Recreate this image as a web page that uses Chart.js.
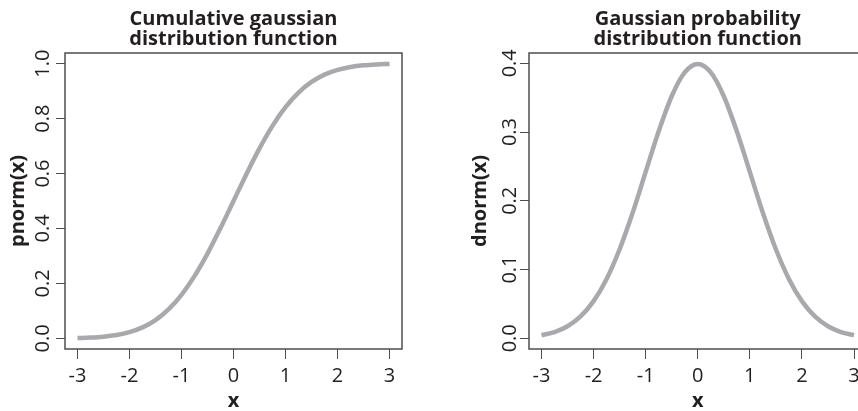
<!DOCTYPE html>
<html>
<head>
<meta charset="utf-8">
<script src="https://cdn.jsdelivr.net/npm/chart.js@4.4.1/dist/chart.umd.min.js"></script>
<style>
  html, body { margin: 0; padding: 0; background: #fff; overflow: hidden; width: 858px; height: 411px; }
  canvas { position: absolute; top: 0; }
  #cdf { left: 0; }
  #pdf { left: 430px; }
</style>
</head>
<body>
<canvas id="cdf" width="430" height="411"></canvas>
<canvas id="pdf" width="460" height="411"></canvas>
<script>
// Values.
const xValues = [-3, -2.75, -2.5, -2.25, -2, -1.75, -1.5, -1.25, -1, -0.75, -0.5, -0.25, 0,
                 0.25, 0.5, 0.75, 1, 1.25, 1.5, 1.75, 2, 2.25, 2.5, 2.75, 3];
const pnormValues = [0.0013, 0.0030, 0.0062, 0.0122, 0.0228, 0.0401, 0.0668, 0.1056, 0.1587, 0.2266, 0.3085, 0.4013, 0.5,
                     0.5987, 0.6915, 0.7734, 0.8413, 0.8944, 0.9332, 0.9599, 0.9772, 0.9878, 0.9938, 0.9970, 0.9987];
const dnormValues = [0.0044, 0.0091, 0.0175, 0.0317, 0.0540, 0.0863, 0.1295, 0.1826, 0.2420, 0.3011, 0.3521, 0.3867, 0.3989,
                     0.3867, 0.3521, 0.3011, 0.2420, 0.1826, 0.1295, 0.0863, 0.0540, 0.0317, 0.0175, 0.0091, 0.0044];

// Tick labels.
const xTicks = [-3, -2, -1, 0, 1, 2, 3];
const pnormTicks = [0, 0.2, 0.4, 0.6, 0.8, 1.0];
const dnormTicks = [0, 0.1, 0.2, 0.3, 0.4];

// Titles.
const cdfTitle = ['Cumulative gaussian', 'distribution function'];
const pdfTitle = ['Gaussian probability', 'distribution function'];

const ink = '#231f20';
const frameColor = '#4d4d4d';
const curveColor = '#a7a9ac';
const family = '"Open Sans", sans-serif';

Chart.defaults.font.family = family;

// Draws the full R-style box round the plot area.
const boxPlugin = {
    id: 'plotBox',
    afterDatasetsDraw(chart) {
        const {ctx, chartArea} = chart;
        ctx.save();
        ctx.strokeStyle = frameColor;
        ctx.lineWidth = 1.5;
        ctx.strokeRect(chartArea.left, chartArea.top, chartArea.right - chartArea.left, chartArea.bottom - chartArea.top);
        ctx.restore();
    }
};

// Two-line bold title centred over the plot area.
const titlePlugin = {
    id: 'panelTitle',
    afterDraw(chart, args, opts) {
        const {ctx, chartArea} = chart;
        const cx = (chartArea.left + chartArea.right) / 2;
        ctx.save();
        ctx.font = 'bold 20px ' + family;
        ctx.fillStyle = ink;
        ctx.textAlign = 'center';
        ctx.textBaseline = 'alphabetic';
        opts.lines.forEach((t, i) => ctx.fillText(t, cx, 25 + i * 20));
        ctx.restore();
    }
};

function drawPanel(canvasId, values, yTicks, yMin, yMax, titleLines, yTitle, yWidth, yTitlePad, yLabelPad, rightPad) {
    return new Chart(document.getElementById(canvasId), {
        type: 'line',
        data: {
            datasets: [{
                data: xValues.map((x, i) => ({ x: x, y: values[i] })),
                borderColor: curveColor,
                borderWidth: 4.5,
                pointRadius: 0,
                cubicInterpolationMode: 'monotone',
                fill: false
            }]
        },
        options: {
            responsive: false,
            animation: false,
            layout: { padding: { left: 0, right: rightPad, top: 53, bottom: 0 } },
            plugins: {
                legend: { display: false },
                tooltip: { enabled: false },
                panelTitle: { lines: titleLines }
            },
            scales: {
                x: {
                    type: 'linear',
                    min: -3.24,
                    max: 3.24,
                    afterBuildTicks: s => { s.ticks = xTicks.map(v => ({ value: v })); },
                    afterFit: s => { s.height = 62; },
                    border: { display: false },
                    grid: { drawOnChartArea: false, drawTicks: true, tickLength: 10, tickColor: frameColor, tickWidth: 1 },
                    ticks: { color: ink, font: { size: 20 }, padding: 5, maxRotation: 0, callback: v => String(v) },
                    title: { display: true, text: 'x', color: ink, font: { size: 20, weight: 'bold', lineHeight: 1 }, padding: { top: 0, bottom: 0 } }
                },
                y: {
                    type: 'linear',
                    min: yMin,
                    max: yMax,
                    afterBuildTicks: s => { s.ticks = yTicks.map(v => ({ value: v })); },
                    afterFit: s => { s.width = yWidth; },
                    border: { display: false },
                    grid: { drawOnChartArea: false, drawTicks: true, tickLength: 9, tickColor: frameColor, tickWidth: 1 },
                    ticks: { color: ink, font: { size: 20 }, padding: yLabelPad, minRotation: 90, maxRotation: 90, crossAlign: 'center', callback: v => v.toFixed(1) },
                    title: { display: true, text: yTitle, color: ink, font: { size: 20, weight: 'bold', lineHeight: 1 }, padding: { top: yTitlePad, bottom: 0 } }
                }
            }
        },
        plugins: [boxPlugin, titlePlugin]
    });
}

drawPanel('cdf', pnormValues, pnormTicks, -0.0386, 1.0386, cdfTitle, 'pnorm(x)', 65, 8, -1.5, 28);
drawPanel('pdf', dnormValues, dnormTicks, -0.0156, 0.415, pdfTitle, 'dnorm(x)', 99, 40, -4, 23.5);
</script>
</body>
</html>
